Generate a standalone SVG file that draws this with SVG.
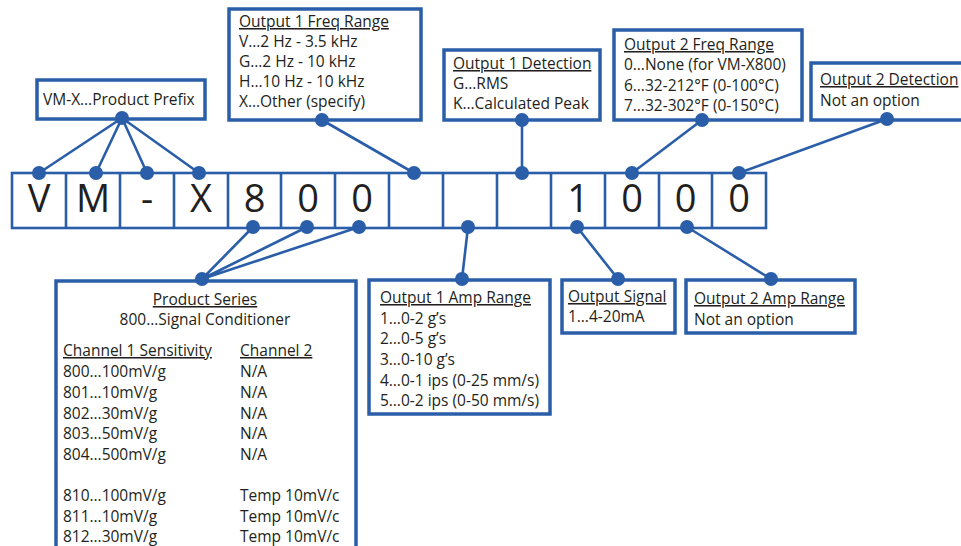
<svg xmlns="http://www.w3.org/2000/svg" width="961" height="546" viewBox="0 0 961 546">
<style>
.box{fill:#fff;stroke:#2a5ea8;stroke-width:3.5}
.cell{fill:#fff;stroke:#2a5ea8;stroke-width:2.6}
.t{font-family:"Open Sans","Noto Sans","Liberation Sans",sans-serif;font-size:15.5px;fill:#231f20}
.u{text-decoration:underline}
.big{font-family:"Open Sans","Noto Sans","Liberation Sans",sans-serif;font-size:38px;fill:#231f20;text-anchor:middle}
.c{text-anchor:middle}
.ln{stroke:#2a5ea8;stroke-width:2.6;fill:none}
.dot{fill:#2a5ea8}
</style>
<rect width="961" height="546" fill="#fff"/>
<g id="code">
<rect class="cell" x="12" y="173" width="754" height="55"/>
<path class="ln" d="M66 173V228M120 173V228M174 173V228M228 173V228M281 173V228M335 173V228M389 173V228M443 173V228M497 173V228M551 173V228M605 173V228M659 173V228M712 173V228"/>
<text class="big" x="39" y="212">V</text>
<text class="big" x="93" y="212">M</text>
<text class="big" x="147" y="212">-</text>
<text class="big" x="201" y="212">X</text>
<text class="big" x="254.5" y="212">8</text>
<text class="big" x="308" y="212">0</text>
<text class="big" x="362" y="212">0</text>
<text class="big" x="578" y="212">1</text>
<text class="big" x="632" y="212">0</text>
<text class="big" x="685.5" y="212">0</text>
<text class="big" x="739" y="212">0</text>
</g>
<g id="connectors">
<path class="ln" d="M122 118L39 173M122 118L96 173M122 118L147 173M122 118L199 173"/>
<path class="ln" d="M322 120L414 173"/>
<path class="ln" d="M522 120V173"/>
<path class="ln" d="M702 120L632 173"/>
<path class="ln" d="M887 119L739 173"/>
<path class="ln" d="M202 279L253 227M202 279L307 227M202 279L359 227"/>
<path class="ln" d="M468 227L462 279"/>
<path class="ln" d="M577 227L618 279"/>
<path class="ln" d="M687 227L771 279"/>
<g class="dot">
<circle cx="39" cy="173" r="7"/><circle cx="96" cy="173" r="7"/><circle cx="147" cy="173" r="7"/><circle cx="199" cy="173" r="7"/>
<circle cx="414" cy="173" r="7"/><circle cx="522" cy="173" r="7"/><circle cx="632" cy="173" r="7"/><circle cx="739" cy="173" r="7"/>
<circle cx="253" cy="227" r="7"/><circle cx="307" cy="227" r="7"/><circle cx="359" cy="227" r="7"/>
<circle cx="468" cy="227" r="7"/><circle cx="577" cy="227" r="7"/><circle cx="687" cy="227" r="7"/>
</g>
</g>
<g id="prefix">
<rect class="box" x="37" y="80" width="168" height="39"/>
<text class="t" x="43" y="105">VM-X…Product Prefix</text>
<circle class="dot" cx="122" cy="118" r="7"/>
</g>
<g id="out1freq">
<rect class="box" x="229" y="9" width="192" height="111"/>
<text class="t u" x="239" y="27">Output 1 Freq Range</text>
<text class="t" x="239" y="47">V…2 Hz - 3.5 kHz</text>
<text class="t" x="239" y="67">G…2 Hz - 10 kHz</text>
<text class="t" x="239" y="87">H…10 Hz - 10 kHz</text>
<text class="t" x="239" y="107">X…Other (specify)</text>
<circle class="dot" cx="322" cy="120" r="7"/>
</g>
<g id="out1det">
<rect class="box" x="444" y="50" width="156" height="70"/>
<text class="t u" x="453" y="69">Output 1 Detection</text>
<text class="t" x="453" y="89">G…RMS</text>
<text class="t" x="453" y="109">K…Calculated Peak</text>
<circle class="dot" cx="522" cy="120" r="7"/>
</g>
<g id="out2freq">
<rect class="box" x="614" y="30" width="188" height="90"/>
<text class="t u" x="624" y="50">Output 2 Freq Range</text>
<text class="t" x="624" y="70">0…None (for VM-X800)</text>
<text class="t" x="624" y="91">6…32-212°F (0-100°C)</text>
<text class="t" x="624" y="111">7…32-302°F (0-150°C)</text>
<circle class="dot" cx="702" cy="120" r="7"/>
</g>
<g id="out2det">
<rect class="box" x="811" y="63" width="170" height="57"/>
<text class="t u" x="820" y="85">Output 2 Detection</text>
<text class="t" x="820" y="106">Not an option</text>
<circle class="dot" cx="887" cy="119" r="7"/>
</g>
<g id="series">
<rect class="box" x="56" y="281" width="300" height="290"/>
<text class="t u c" x="205" y="305">Product Series</text>
<text class="t c" x="205" y="325">800…Signal Conditioner</text>
<text class="t u" x="63" y="356">Channel 1 Sensitivity</text>
<text class="t u" x="240" y="356">Channel 2</text>
<text class="t" x="63" y="377">800…100mV/g</text><text class="t" x="240" y="377">N/A</text>
<text class="t" x="63" y="398">801…10mV/g</text><text class="t" x="240" y="398">N/A</text>
<text class="t" x="63" y="419">802…30mV/g</text><text class="t" x="240" y="419">N/A</text>
<text class="t" x="63" y="439">803…50mV/g</text><text class="t" x="240" y="439">N/A</text>
<text class="t" x="63" y="460">804…500mV/g</text><text class="t" x="240" y="460">N/A</text>
<text class="t" x="63" y="501">810…100mV/g</text><text class="t" x="240" y="501">Temp 10mV/c</text>
<text class="t" x="63" y="522">811…10mV/g</text><text class="t" x="240" y="522">Temp 10mV/c</text>
<text class="t" x="63" y="542">812…30mV/g</text><text class="t" x="240" y="542">Temp 10mV/c</text>
<circle class="dot" cx="202" cy="279" r="7"/>
</g>
<g id="out1amp">
<rect class="box" x="369" y="280" width="181" height="134"/>
<text class="t u" x="380" y="303">Output 1 Amp Range</text>
<text class="t" x="380" y="324">1…0-2 g’s</text>
<text class="t" x="380" y="344">2…0-5 g’s</text>
<text class="t" x="380" y="365">3…0-10 g’s</text>
<text class="t" x="380" y="386">4…0-1 ips (0-25 mm/s)</text>
<text class="t" x="380" y="406">5…0-2 ips (0-50 mm/s)</text>
<circle class="dot" cx="462" cy="279" r="7"/>
</g>
<g id="signal">
<rect class="box" x="562" y="280" width="113" height="53"/>
<text class="t u" x="568" y="302">Output Signal</text>
<text class="t" x="568" y="322">1…4-20mA</text>
<circle class="dot" cx="618" cy="279" r="7"/>
</g>
<g id="out2amp">
<rect class="box" x="686" y="280" width="169" height="53"/>
<text class="t u" x="694" y="304">Output 2 Amp Range</text>
<text class="t" x="694" y="325">Not an option</text>
<circle class="dot" cx="771" cy="279" r="7"/>
</g>
</svg>
